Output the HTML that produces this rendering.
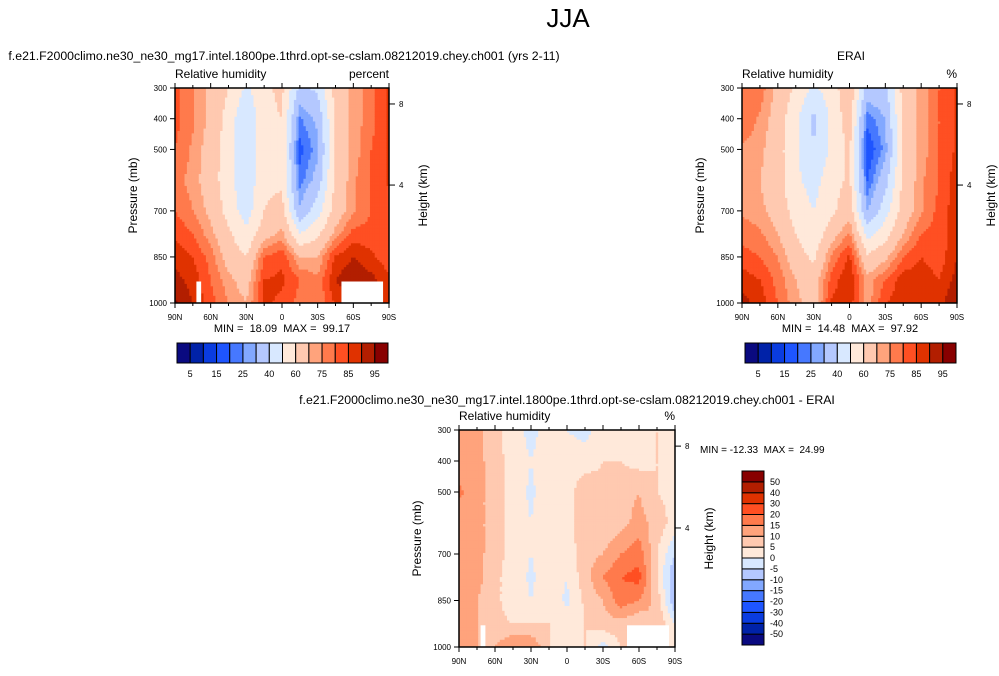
<!DOCTYPE html>
<html><head><meta charset="utf-8"><style>
body{margin:0;background:#fff;}
svg text{font-family:"Liberation Sans",sans-serif;fill:#000;white-space:pre;}
</style></head><body>
<svg id="s" width="999" height="671" viewBox="0 0 999 671">
<text x="568" y="27" font-size="26" text-anchor="middle">JJA</text>
</svg>
<script>
const lats=[90,75,60,45,30,15,0,-15,-30,-45,-60,-75,-90];
const levs=[300,400,500,600,700,775,850,925,1000];
const model=[
[81,76,68,60,48,58,62,38,42,64,72,78,86],
[82,76,68,56,40,58,60,24,32,62,72,78,86],
[80,74,66,54,40,58,58,18,28,62,72,80,86],
[77,73,65,54,42,58,58,22,34,62,74,80,86],
[80,75,68,56,45,60,64,32,46,65,74,80,82],
[84,80,72,62,52,66,72,50,58,72,82,82,82],
[88,85,78,66,60,80,84,70,70,86,90,86,82],
[92,88,80,72,66,85,86,80,76,90,94,92,86],
[96,90,82,75,70,86,84,78,76,86,92,92,88]];
const erai=[
[76,78,68,58,48,55,68,36,38,64,72,80,86],
[80,74,66,52,38,52,66,22,30,62,72,80,86],
[74,72,64,52,40,52,62,15,27,62,72,80,86],
[72,70,64,52,46,56,62,20,36,62,74,80,88],
[74,72,66,56,50,58,66,30,46,65,74,82,88],
[78,76,70,60,52,66,76,46,56,70,80,82,88],
[82,80,75,65,58,76,86,62,68,80,85,82,90],
[88,85,78,70,65,82,90,72,80,88,88,85,92],
[92,88,80,72,66,86,88,72,85,88,88,88,95]];
const diff=[
[10,12,6,3,-2,3,0,-2,3,3,3,5,3],
[12,12,7,3,0,3,3,3,5,5,3,5,3],
[16,12,7,3,-1,3,3,8,6,8,10,5,3],
[12,12,7,3,0,4,3,8,6,8,12,8,3],
[12,12,7,3,0,3,2,8,10,15,18,5,-5],
[12,12,6,3,-1,3,0,8,15,20,22,5,-10],
[12,10,6,3,0,3,-1,6,10,18,15,8,-10],
[12,10,6,5,5,5,2,5,8,8,5,10,0],
[10,10,10,15,15,5,3,5,-2,5,5,5,3]];
const rhLevels=[5,10,15,20,25,30,40,50,60,70,75,80,85,90,95];
const rhLabels=["5","15","25","40","60","75","85","95"];
const dLevels=[-50,-40,-30,-20,-15,-10,-5,0,5,10,15,20,30,40,50];
const dLabels=["-50","-40","-30","-20","-15","-10","-5","0","5","10","15","20","30","40","50"];
const xTickLabels=["90N","60N","30N","0","30S","60S","90S"];
const xTickLats=[90,60,30,0,-30,-60,-90];
const pTicks=[300,400,500,700,850,1000];
const hTicks=[8,4];
const hTickP=[352,616];
const colors=["#0a0a80","#0022a8","#0a3ce0","#1e55ff","#4678ff","#82a8ff","#b4c8ff","#d8e8ff","#ffe9da","#ffc9b0","#ffa37c","#ff7a4c","#ff4f22","#e03200","#b21e00","#880000"];
const S=document.getElementById('s');
const NS="http://www.w3.org/2000/svg";
function mk(t,a,txt){const e=document.createElementNS(NS,t);for(const k in a)e.setAttribute(k,a[k]);if(txt!==undefined)e.textContent=txt;S.appendChild(e);return e;}
function colorFor(v,lv){let i=0;while(i<lv.length&&v>=lv[i])i++;return colors[Math.min(i,15)];}
function field(g,latv,p){
 let fx=(90-latv)/15, cx=Math.min(Math.floor(fx),11), tx=fx-cx;
 let r=0;while(r<levs.length-2&&p>levs[r+1])r++;
 let ty=(p-levs[r])/(levs[r+1]-levs[r]);
 const a=g[r][cx],b=g[r][cx+1],c=g[r+1][cx],d=g[r+1][cx+1];
 return a*(1-tx)*(1-ty)+b*tx*(1-ty)+c*(1-tx)*ty+d*tx*ty;}
function panel(x0,y0,w,h,g,lv,name,units,missing){
 const X=l=>x0+(90-l)/180*w, Y=p=>y0+(p-300)/700*h;
 const n=90;
 for(let i=0;i<n;i++)for(let j=0;j<n;j++){
  const l=90-(i+0.5)*180/n, p=300+(j+0.5)*700/n;
  const r=mk('rect',{x:(x0+i*w/n).toFixed(2),y:(y0+j*h/n).toFixed(2),width:(w/n+0.4).toFixed(2),height:(h/n+0.4).toFixed(2),fill:colorFor(field(g,l,p),lv)});
  
  
 }
 missing.forEach(m=>{const r=mk('rect',{x:X(m[0]),y:Y(m[2]),width:X(m[1])-X(m[0]),height:Y(1000)-Y(m[2]),fill:'#fff'});
  });
 const f=mk('rect',{x:x0,y:y0,width:w,height:h,fill:'none',stroke:'#000','stroke-width':1.5});
 
 xTickLats.forEach((l,k)=>{const x=X(l);
  mk('line',{x1:x,x2:x,y1:y0+h,y2:y0+h+5,stroke:'#000'});mk('line',{x1:x,x2:x,y1:y0,y2:y0-5,stroke:'#000'});
  const t=mk('text',{x:x,y:y0+h+17,'font-size':8,'text-anchor':'middle'},xTickLabels[k]);
  });
 for(let l=75;l>-90;l-=15){if(l%30==0)continue;const x=X(l);mk('line',{x1:x,x2:x,y1:y0+h,y2:y0+h+3,stroke:'#000'});mk('line',{x1:x,x2:x,y1:y0,y2:y0-3,stroke:'#000'});}
 pTicks.forEach(p=>{const y=Y(p);mk('line',{x1:x0-5,x2:x0,y1:y,y2:y,stroke:'#000'});
  const t=mk('text',{x:x0-8,y:y+3,'font-size':8,'text-anchor':'end'},p);
  });
 hTicks.forEach((hk,k)=>{const y=Y(hTickP[k]);mk('line',{x1:x0+w,x2:x0+w+6,y1:y,y2:y,stroke:'#000'});
  const t=mk('text',{x:x0+w+10,y:y+3,'font-size':8},hk);
  });
 let t=mk('text',{transform:`translate(${x0-38},${y0+h/2}) rotate(-90)`,'font-size':12,'text-anchor':'middle'},'Pressure (mb)');
 
 t=mk('text',{transform:`translate(${x0+w+38},${y0+h/2}) rotate(-90)`,'font-size':12,'text-anchor':'middle'},'Height (km)');
 
 t=mk('text',{x:x0,y:y0-10,'font-size':12},'Relative humidity');
 
 t=mk('text',{x:x0+w,y:y0-10,'font-size':12,'text-anchor':'end'},units);
 
}
function hbar(x0,y0,w,h){const bw=w/16;
 colors.forEach((c,i)=>{const r=mk('rect',{x:x0+i*bw,y:y0,width:bw,height:h,fill:c,stroke:'#000','stroke-width':1});
  });
 rhLabels.forEach((s,k)=>{const t=mk('text',{x:x0+(2*k+1)*bw,y:y0+h+14,'font-size':9,'text-anchor':'middle'},s);
  });}
const miss1=[[72,68,930],[-50,-85,930]];
panel(175,88,214,215,model,rhLevels,'model-panel','percent',miss1);
panel(742,88,215,215,erai,rhLevels,'erai-panel','%',[]);
panel(459,430,216,217,diff,dLevels,'diff-panel','%',[[72,68,930],[-50,-85,930]]);
hbar(177,343,211,20);hbar(745,343,211,20);
(function(){const x0=742,y0=471,w=22,h=174,bh=h/16;
 colors.forEach((c,i)=>{const r=mk('rect',{x:x0,y:y0+(15-i)*bh,width:w,height:bh,fill:c,stroke:'#000','stroke-width':1});
  });
 dLabels.forEach((s,k)=>{const t=mk('text',{x:x0+w+6,y:y0+(15-k)*bh+3,'font-size':9},s);
  });})();
function txt(x,y,s,fs,anc,name){const t=mk('text',{x:x,y:y,'font-size':fs,'text-anchor':anc},s);}
txt(284,60,'f.e21.F2000climo.ne30_ne30_mg17.intel.1800pe.1thrd.opt-se-cslam.08212019.chey.ch001 (yrs 2-11)',12.3,'middle','model-title');
txt(851,60,'ERAI',12,'middle','erai-title');
txt(567,404,'f.e21.F2000climo.ne30_ne30_mg17.intel.1800pe.1thrd.opt-se-cslam.08212019.chey.ch001 - ERAI',12.3,'middle','diff-title');
txt(282,332,'MIN =  18.09  MAX =  99.17',11,'middle','model-minmax');
txt(850,332,'MIN =  14.48  MAX =  97.92',11,'middle','erai-minmax');
txt(700,453,'MIN = -12.33  MAX =  24.99',10,'start','diff-minmax');
</script>
</body></html>
